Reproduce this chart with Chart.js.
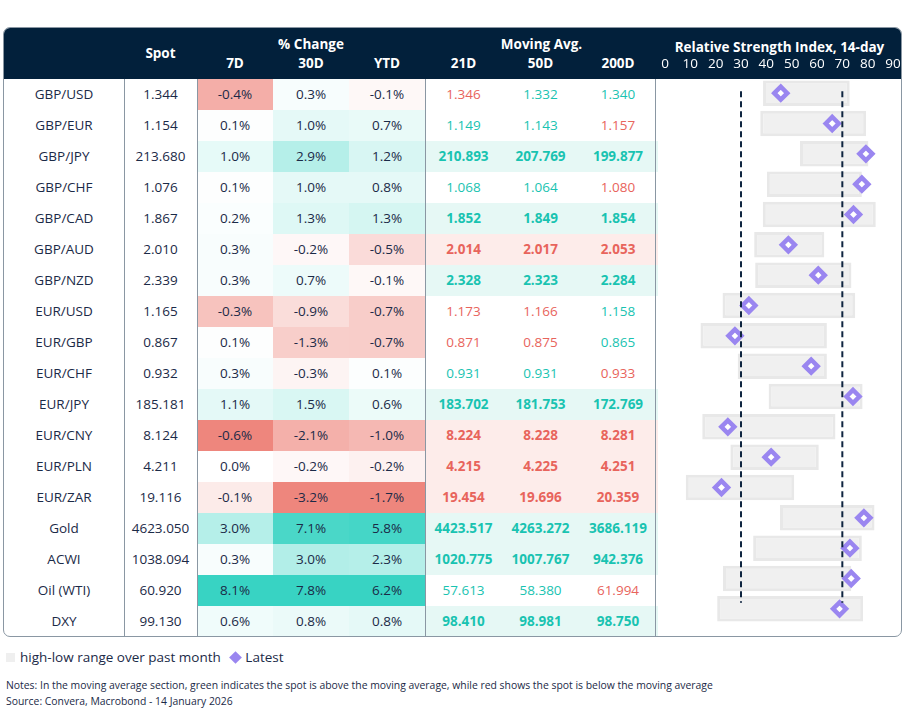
<!DOCTYPE html>
<html><head><meta charset="utf-8">
<script src="https://cdn.jsdelivr.net/npm/chart.js@4/dist/chart.umd.min.js"></script>
<style>
body{margin:0;width:905px;height:709px;background:#fff;font-family:"Open Sans","Noto Sans",sans-serif;color:#1b2a47;position:relative;overflow:hidden}
#box{position:absolute;left:3px;top:27px;width:897px;height:608px;border:1px solid #8a97a3;border-radius:7px;overflow:hidden}
#hdr{position:absolute;left:0;top:0;width:100%;height:51px;background:#02203b}
.h{position:absolute;color:#fff;font-weight:bold;font-size:13.5px;text-align:center}
.c{position:absolute;height:31px;line-height:31px;text-align:center;font-size:13.5px}
.vl{position:absolute;top:51px;bottom:0;width:1px;background:#8a97a3}
#rsi{position:absolute;left:654px;top:27px;width:250px;height:608px}
.lg{position:absolute;font-size:13.5px}
.note{position:absolute;left:6px;font-size:10.4px;color:#1b2a47}
</style></head><body>
<div id="box"><div id="hdr"></div></div>
<div id="rsi"><canvas id="cv"></canvas></div>
<div class="lg" style="left:6px;top:648px"><span style="display:inline-block;width:9px;height:9px;background:#efefef;margin-right:5px"></span>high-low range over past month <span style="display:inline-block;width:9px;height:9px;background:#9a86f0;transform:rotate(45deg);margin:0 5px 0 7px"></span>Latest</div>
<div class="note" style="top:678px">Notes: In the moving average section, green indicates the spot is above the moving average, while red shows the spot is below the moving average</div>
<div class="note" style="top:694px">Source: Convera, Macrobond - 14 January 2026</div>
<script>
const pairs=["GBP/USD","GBP/EUR","GBP/JPY","GBP/CHF","GBP/CAD","GBP/AUD","GBP/NZD","EUR/USD","EUR/GBP","EUR/CHF","EUR/JPY","EUR/CNY","EUR/PLN","EUR/ZAR","Gold","ACWI","Oil (WTI)","DXY"];
const spot=["1.344","1.154","213.680","1.076","1.867","2.010","2.339","1.165","0.867","0.932","185.181","8.124","4.211","19.116","4623.050","1038.094","60.920","99.130"];
const chg7d=[-0.4,0.1,1.0,0.1,0.2,0.3,0.3,-0.3,0.1,0.3,1.1,-0.6,0.0,-0.1,3.0,0.3,8.1,0.6];
const chg30d=[0.3,1.0,2.9,1.0,1.3,-0.2,0.7,-0.9,-1.3,-0.3,1.5,-2.1,-0.2,-3.2,7.1,3.0,7.8,0.8];
const chgYtd=[-0.1,0.7,1.2,0.8,1.3,-0.5,-0.1,-0.7,-0.7,0.1,0.6,-1.0,-0.2,-1.7,5.8,2.3,6.2,0.8];
const ma21=["1.346","1.149","210.893","1.068","1.852","2.014","2.328","1.173","0.871","0.931","183.702","8.224","4.215","19.454","4423.517","1020.775","57.613","98.410"];
const ma50=["1.332","1.143","207.769","1.064","1.849","2.017","2.323","1.166","0.875","0.931","181.753","8.228","4.225","19.696","4263.272","1007.767","58.380","98.981"];
const ma200=["1.340","1.157","199.877","1.080","1.854","2.053","2.284","1.158","0.865","0.933","172.769","8.281","4.251","20.359","3686.119","942.376","61.994","98.750"];
const rsiLow=[38.7,37.6,53.3,40.2,38.6,35.2,35.6,22.7,14.0,28.7,40.9,14.7,25.8,8.2,45.4,34.8,22.9,20.6];
const rsiHigh=[72.9,79.4,80.3,77.7,83.2,62.9,73.6,75.1,63.9,63.9,78.0,67.3,60.7,51.0,82.7,77.7,73.5,78.2];
const rsiLatest=[45.7,66.0,79.3,77.7,74.4,48.7,60.5,33.1,27.6,57.7,74.2,24.8,41.9,22.3,78.5,73.0,73.5,68.9];
const rsiTicks=[0,10,20,30,40,50,60,70,80,90];

const box=document.getElementById('box');
function add(cls,txt,l,t,w,st){const d=document.createElement('div');d.className=cls;d.textContent=txt;d.style.left=l+'px';d.style.top=t+'px';d.style.width=w+'px';if(st)Object.assign(d.style,st);box.appendChild(d);return d;}
const hd=document.getElementById('hdr');
function h(txt,l,t,w){const d=document.createElement('div');d.className='h';d.textContent=txt;d.style.left=l+'px';d.style.top=t+'px';d.style.width=w+'px';hd.appendChild(d);}
h("Spot",120,16,73);h("% Change",193,7,228);h("7D",193,26,76);h("30D",269,26,76);h("YTD",345,26,76);
h("Moving Avg.",421,7,233);h("21D",421,26,77);h("50D",498,26,77);h("200D",575,26,78);
h("Relative Strength Index, 14-day",654,10,243);
function heat(v,arr){const mx=Math.max(...arr),mn=Math.min(...arr);
 if(v>0){const a=v/mx;return `rgb(${Math.round(255-(255-56)*a)},${Math.round(255-(255-211)*a)},${Math.round(255-(255-195)*a)})`;}
 if(v<0){const a=v/mn;return `rgb(${Math.round(255-(255-238)*a)},${Math.round(255-(255-134)*a)},${Math.round(255-(255-125)*a)})`;}
 return '#fff';}
const GREEN='#19c3b1',RED='#e8645c';
pairs.forEach((p,i)=>{const t=51+i*31;
 add('c',p,0,t,120);add('c',spot[i],120,t,73);
 [[chg7d,193,76],[chg30d,269,76],[chgYtd,345,76]].forEach(([a,l,w])=>add('c',a[i].toFixed(1)+'%',l,t,w,{background:heat(a[i],a)}));
 const s=parseFloat(spot[i]);const mas=[ma21[i],ma50[i],ma200[i]];
 const up=mas.map(m=>s>parseFloat(m));const all=up.every(x=>x)||up.every(x=>!x);
 if(all)add('c','',421,t,233,{background:up[0]?'#e6f8f5':'#fdecea'});
 mas.forEach((m,k)=>add('c',m,421+k*77,t,k==2?78:77,{color:up[k]?GREEN:RED,fontWeight:all?'bold':'normal'}));
});
[120,193,421,651].forEach(x=>{const d=document.createElement('div');d.className='vl';d.style.left=x+'px';box.appendChild(d);});

const refLines={id:'ref',afterDatasetsDraw(c){const x=c.scales.x,y=c.scales.y,ctx=c.ctx;ctx.save();ctx.strokeStyle='#0f2540';ctx.lineWidth=2;ctx.setLineDash([6,4]);
 [30,70].forEach(v=>{const px=x.getPixelForValue(v);ctx.beginPath();ctx.moveTo(px,y.getPixelForValue(0)-2);ctx.lineTo(px,y.getPixelForValue(pairs.length-1)-6);ctx.stroke();});ctx.restore();}};
new Chart(document.getElementById('cv'),{
 data:{labels:pairs,datasets:[
  {type:'line',data:rsiLatest,showLine:false,pointStyle:'rectRot',pointRadius:6.5,pointBorderWidth:4.5,pointBackgroundColor:'#fff',pointBorderColor:'#9a86f0',order:0},
  {type:'bar',data:rsiLow.map((l,i)=>[l,rsiHigh[i]]),backgroundColor:'#f0f0f0',borderColor:'#e8e8e8',borderWidth:3,borderSkipped:false,barPercentage:0.84,categoryPercentage:1,order:1}
 ]},
 options:{indexAxis:'y',responsive:true,maintainAspectRatio:false,animation:false,events:[],
  layout:{padding:{left:0,right:4,top:28,bottom:0}},
  plugins:{legend:{display:false},tooltip:{enabled:false}},
  scales:{
   x:{position:'top',min:0,max:90,afterBuildTicks(s){s.ticks=rsiTicks.map(v=>({value:v}));},
      ticks:{color:'#fff',font:{size:13.5,family:'Open Sans'},padding:2},grid:{display:false,drawTicks:true,tickLength:4,tickColor:'#fff'},border:{display:false},
      afterFit(s){s.height=23;}},
   y:{display:false,offset:true}
  }},
 plugins:[refLines]});
</script></body></html>
